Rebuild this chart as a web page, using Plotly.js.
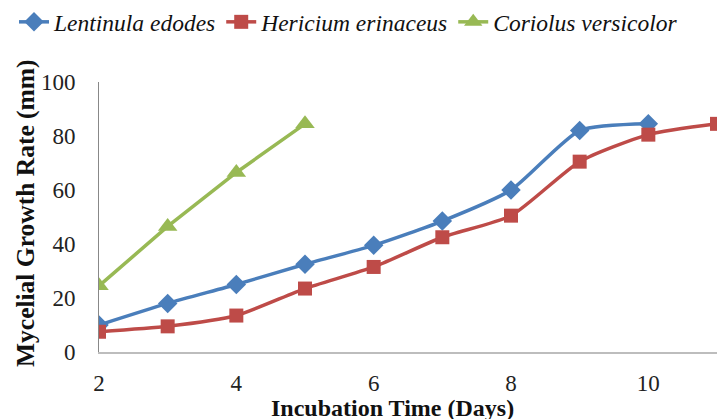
<!DOCTYPE html>
<html><head><meta charset="utf-8">
<script src="https://cdn.plot.ly/plotly-3.0.1.min.js"></script>
<style>html,body{margin:0;padding:0;background:#fff}#c{width:726px;height:419px}</style>
</head><body><div id="c"></div>
<script>
const daysLentinula = [2,3,4,5,6,7,8,9,10];
const lentinula = [10,18,25,32.5,39.5,48.5,60,82,84.5];
const daysHericium = [2,3,4,5,6,7,8,9,10,11];
const hericium = [7.5,9.5,13.5,23.5,31.5,42.5,50.5,70.5,80.5,84.5];
const daysCoriolus = [2,3,4,5];
const coriolus = [24.5,46.5,66.5,84.5];
const xTicks = [2,4,6,8,10];
const yTicks = [0,20,40,60,80,100];

const SERIF = 'Liberation Serif';

const traces = [
  {x: daysLentinula, y: lentinula, name: 'Lentinula edodes', mode: 'lines+markers',
   line: {color: '#4A7EBB', width: 3.5, shape: 'spline', smoothing: 0.6},
   marker: {symbol: 'diamond', size: 15, color: '#4A7EBB'}},
  {x: daysHericium, y: hericium, name: 'Hericium erinaceus', mode: 'lines+markers',
   line: {color: '#BE4B48', width: 3.5, shape: 'spline', smoothing: 0.6},
   marker: {symbol: 'square', size: 14, color: '#BE4B48'}},
  {x: daysCoriolus, y: coriolus, name: 'Coriolus versicolor', mode: 'lines+markers',
   line: {color: '#98B954', width: 3.5},
   marker: {symbol: 'triangle-up', size: 17, color: '#98B954'}}
];

const layout = {
  width: 726, height: 419,
  margin: {l: 99, r: 9, t: 82, b: 67, autoexpand: false},
  paper_bgcolor: '#fff', plot_bgcolor: '#fff',
  font: {family: SERIF, color: '#222'},
  showlegend: true,
  legend: {orientation: 'h', xref: 'paper', x: (14 - 99) / 618, xanchor: 'left',
    y: 1.222, yanchor: 'middle', itemwidth: 30, tracegroupgap: 0,
    font: {family: SERIF, size: 23.5, style: 'italic', color: '#111'}},
  xaxis: {range: [2, 11], tickvals: xTicks, ticktext: xTicks.map(String),
    showgrid: false, zeroline: false, showline: true, linecolor: '#bdbdbd', linewidth: 1.5,
    ticks: 'outside', ticklen: 10, tickcolor: 'rgba(0,0,0,0)',
    tickfont: {family: SERIF, size: 23, color: '#222'}},
  yaxis: {range: [0, 100], tickvals: yTicks, ticktext: yTicks.map(String),
    showgrid: false, zeroline: false, showline: true, linecolor: '#888', linewidth: 1,
    ticks: 'outside', ticklen: 18, tickcolor: 'rgba(0,0,0,0)',
    tickfont: {family: SERIF, size: 23, color: '#222'}},
  annotations: [
    {text: '<b>Incubation Time (Days)</b>', xref: 'paper', yref: 'paper',
     x: (392 - 99) / 618, y: -(408 - 352) / 270, xanchor: 'center', yanchor: 'middle', showarrow: false,
     font: {family: SERIF, size: 24, color: '#111'}},
    {text: '<b>Mycelial Growth Rate (mm)</b>', xref: 'paper', yref: 'paper', textangle: -90,
     x: (25 - 99) / 618, y: 0.5 + 4 / 270, xanchor: 'center', yanchor: 'middle', showarrow: false,
     font: {family: SERIF, size: 25.5, color: '#111'}}
  ]
};
Plotly.newPlot('c', traces, layout, {staticPlot: true, displayModeBar: false});
</script></body></html>
